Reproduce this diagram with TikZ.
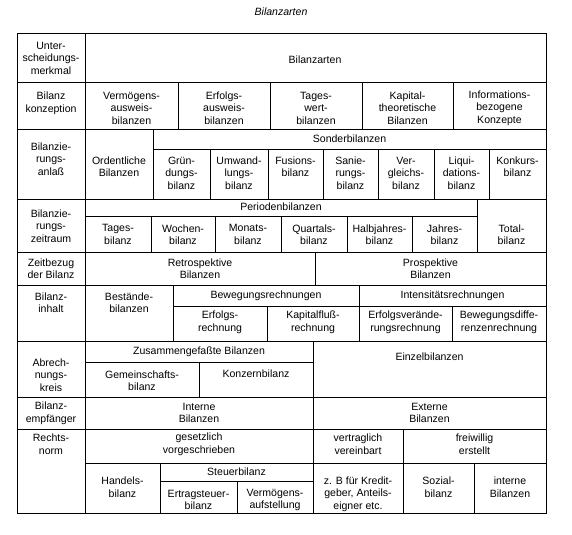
\documentclass[tikz,border=0pt]{standalone}
\usepackage{fontspec}
\setmainfont{Liberation Sans}
\begin{document}
\begin{tikzpicture}[x=0.3mm, y=-0.3mm, line width=0.6pt,
    txt/.style={align=center, inner sep=0pt, font=\fontsize{9}{10.7}\selectfont}]
    \useasboundingbox (0,0) rectangle (572,534);
    \node[txt, font=\fontsize{9}{10.7}\selectfont\itshape] (titel) at (281,12) {Bilanzarten};

    % Rahmen und Zeilen
    \draw (17,33) rectangle (546,513);
    \draw (85,33) -- (85,513);
    \foreach \y in {82,129,199,252,285,341,397,429}
        \draw (17,\y) -- (546,\y);

    % Unterscheidungsmerkmal
    \node[txt] (merkmal) at (51,58) {Unter-\\scheidungs-\\merkmal};
    \node[txt] (arten) at (315,60) {Bilanzarten};

    % Bilanzkonzeption
    \foreach \x in {178,270,362,453}
        \draw (\x,82) -- (\x,129);
    \node[txt] (konzeption) at (51,103.5) {Bilanz\\konzeption};
    \node[txt] (vermausweis) at (131.5,108) {Vermögens-\\ausweis-\\bilanzen};
    \node[txt] (erfausweis) at (224,108) {Erfolgs-\\ausweis-\\bilanzen};
    \node[txt] (tageswert) at (316,108) {Tages-\\wert-\\bilanzen};
    \node[txt] (kapital) at (407.5,108) {Kapital-\\theoretische\\Bilanzen};
    \node[txt] (informat) at (499.5,108) {Informations-\\bezogene\\Konzepte};

    % Bilanzierungsanlass
    \draw (153,129) -- (153,199);
    \draw (153,149) -- (546,149);
    \foreach \x in {210,268,323,378,434,489}
        \draw (\x,149) -- (\x,199);
    \node[txt] (anlass) at (51,159) {Bilanzie-\\rungs-\\anlaß};
    \node[txt] (ordentl) at (119,166.5) {Ordentliche\\Bilanzen};
    \node[txt] (sonder) at (349.5,139) {Sonderbilanzen};
    \node[txt] (gruendung) at (181.5,173) {Grün-\\dungs-\\bilanz};
    \node[txt] (umwandl) at (239,173) {Umwand-\\lungs-\\bilanz};
    \node[txt] (fusion) at (295.5,166.5) {Fusions-\\bilanz};
    \node[txt] (sanierung) at (350.5,173) {Sanie-\\rungs-\\bilanz};
    \node[txt] (vergleich) at (406,173) {Ver-\\gleichs-\\bilanz};
    \node[txt] (liquid) at (461.5,173) {Liqui-\\dations-\\bilanz};
    \node[txt] (konkurs) at (517.5,166.5) {Konkurs-\\bilanz};

    % Bilanzierungszeitraum
    \draw (85,216) -- (477,216);
    \draw (477,199) -- (477,252);
    \foreach \x in {151,215,281,347,412}
        \draw (\x,216) -- (\x,252);
    \node[txt] (zeitraum) at (51,226) {Bilanzie-\\rungs-\\zeitraum};
    \node[txt] (perioden) at (281,207) {Periodenbilanzen};
    \node[txt] (tages) at (118,234.5) {Tages-\\bilanz};
    \node[txt] (wochen) at (183,234.5) {Wochen-\\bilanz};
    \node[txt] (monats) at (248,234.5) {Monats-\\bilanz};
    \node[txt] (quartals) at (314,234.5) {Quartals-\\bilanz};
    \node[txt] (halbjahr) at (379.5,234.5) {Halbjahres-\\bilanz};
    \node[txt] (jahres) at (444.5,234.5) {Jahres-\\bilanz};
    \node[txt] (total) at (511.5,234.5) {Total-\\bilanz};

    % Zeitbezug
    \draw (315,252) -- (315,285);
    \node[txt] (zeitbezug) at (51,268.5) {Zeitbezug\\der Bilanz};
    \node[txt] (retro) at (200,268.5) {Retrospektive\\Bilanzen};
    \node[txt] (prosp) at (430.5,268.5) {Prospektive\\Bilanzen};

    % Bilanzinhalt
    \draw (173,285) -- (173,341);
    \draw (173,306) -- (546,306);
    \draw (359,285) -- (359,341);
    \foreach \x in {267,452}
        \draw (\x,306) -- (\x,341);
    \node[txt] (inhalt) at (51,302.5) {Bilanz-\\inhalt};
    \node[txt] (bestand) at (129,302.5) {Bestände-\\bilanzen};
    \node[txt] (bewegung) at (266,296) {Bewegungsrechnungen};
    \node[txt] (intensit) at (452.5,296) {Intensitätsrechnungen};
    \node[txt] (erfolg) at (220,322.5) {Erfolgs-\\rechnung};
    \node[txt] (kapfluss) at (313,322.5) {Kapitalfluß-\\rechnung};
    \node[txt] (erfveraend) at (405.5,322.5) {Erfolgsverände-\\rungsrechnung};
    \node[txt] (bewdiff) at (499,322.5) {Bewegungsdiffe-\\renzenrechnung};

    % Abrechnungskreis
    \draw (313,341) -- (313,397);
    \draw (85,362) -- (313,362);
    \draw (199,362) -- (199,397);
    \node[txt] (kreis) at (51,375) {Abrech-\\nungs-\\kreis};
    \node[txt] (zusammen) at (199,352) {Zusammengefaßte Bilanzen};
    \node[txt] (gemeinsch) at (142,380.5) {Gemeinschafts-\\bilanz};
    \node[txt] (konzern) at (256,374) {Konzernbilanz};
    \node[txt] (einzel) at (429.5,357) {Einzelbilanzen};

    % Bilanzempfaenger
    \draw (313,397) -- (313,429);
    \node[txt] (empf) at (51,413) {Bilanz-\\empfänger};
    \node[txt] (intern) at (199,413) {Interne\\Bilanzen};
    \node[txt] (extern) at (429.5,413) {Externe\\Bilanzen};

    % Rechtsnorm
    \draw (313,429) -- (313,513);
    \draw (403,429) -- (403,513);
    \draw (85,463) -- (546,463);
    \draw (160,463) -- (160,513);
    \draw (160,481) -- (313,481);
    \draw (237,481) -- (237,513);
    \draw (474,463) -- (474,513);
    \node[txt] (norm) at (51,444) {Rechts-\\norm};
    \node[txt] (gesetzl) at (199,444) {gesetzlich\\vorgeschrieben};
    \node[txt] (vertragl) at (358,444) {vertraglich\\vereinbart};
    \node[txt] (freiw) at (474.5,444) {freiwillig\\erstellt};
    \node[txt] (handels) at (122.5,487) {Handels-\\bilanz};
    \node[txt] (steuer) at (236.5,472) {Steuerbilanz};
    \node[txt] (ertrag) at (198.5,500) {Ertragsteuer-\\bilanz};
    \node[txt] (vermauf) at (275,500) {Vermögens-\\aufstellung};
    \node[txt] (kredit) at (358,494) {z. B für Kredit-\\geber, Anteils-\\eigner etc.};
    \node[txt] (sozial) at (438.5,487) {Sozial-\\bilanz};
    \node[txt] (interne) at (510,487) {interne\\Bilanzen};
\end{tikzpicture}
\end{document}
